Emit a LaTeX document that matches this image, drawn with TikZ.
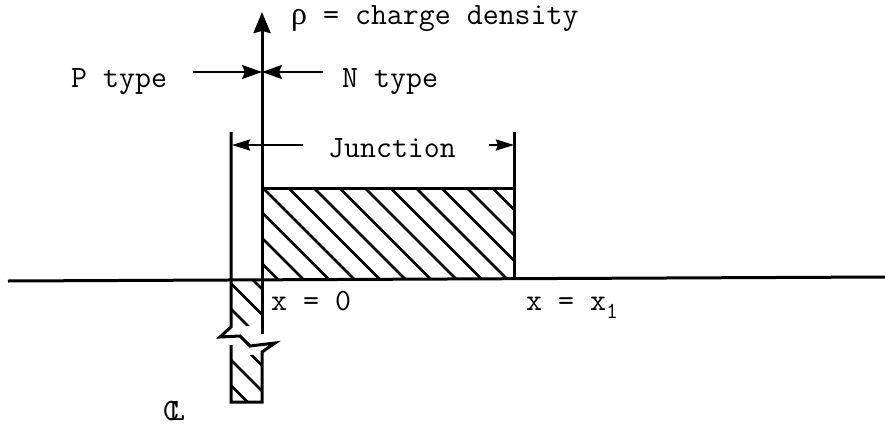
\documentclass[tikz,border=0pt]{standalone}
\usepackage{fontspec}
\usetikzlibrary{arrows.meta}
\newfontfamily\gk{Liberation Serif}
\begin{document}
\begin{tikzpicture}[x=1pt,y=-1pt,
  thickline/.style={line width=3pt},
  hatchline/.style={line width=2.6pt},
  lbl/.style={inner sep=0pt,font=\ttfamily\fontsize{31}{33}\selectfont\addfontfeature{FakeBold=1}},
  bigarr/.style={thickline,-{Stealth[length=21pt,width=17pt,inset=2pt]}},
  pnarr/.style={line width=2.6pt,-{Stealth[length=20pt,width=14pt,inset=3pt]}},
  dimarr/.style={line width=2.4pt,-{Stealth[length=18pt,width=11pt,inset=2pt]}}]
\useasboundingbox (0,0) rectangle (885,428);
% key coordinates
\coordinate (axtop) at (262,12);
\coordinate (axbrk) at (262,334);
\coordinate (hl) at (8,281);
\coordinate (hr) at (885,277);
\coordinate (ltop) at (231,132);
\coordinate (lbrk) at (231,327);
\coordinate (rtop) at (514,132);
\coordinate (rbot) at (514,279);
\coordinate (rectTL) at (262,188);
\coordinate (rectTR) at (514,188);
% hatching of the upper rectangle
\begin{scope}
  \clip (262,188) rectangle (514,279);
  \foreach \k in {-12,...,11}
    \draw[hatchline] ({263+\k*25.5},188) -- ++(120,120);
\end{scope}
% hatching of the column below the axis
\begin{scope}
  \clip (231,279) rectangle (262,326) (231,355) rectangle (262,402);
  \foreach \k in {-12,...,2}
    \draw[hatchline] ({263+\k*25.5},188) -- ++(240,240);
\end{scope}
% horizontal axis
\draw[thickline] (hl) -- (hr);
% vertical axis with arrow
\draw[bigarr] (axbrk) -- (axtop);
% rectangle top edge
\draw[thickline] (rectTL) -- (rectTR);
% junction boundary lines
\draw[thickline] (rtop) -- (rbot);
\draw[thickline,line join=miter] (ltop) -- (lbrk) -- (220,337) -- (240,336) -- (250,346) -- (275,343) -- (262,352) -- (262,402) -- (231,402) -- (231,345);
% junction dimension arrows
\coordinate (jl) at (303,145);
\coordinate (jlt) at (232,145);
\coordinate (jr) at (489,145);
\coordinate (jrt) at (514,145);
\draw[dimarr] (jl) -- (jlt);
\draw[dimarr] (jr) -- (jrt);
% P / N arrows
\coordinate (pt) at (193,72);
\coordinate (nt) at (323,72);
\coordinate (mid) at (262,72);
\draw[pnarr] (pt) -- (mid);
\draw[pnarr] (nt) -- (mid);
% labels
\node[lbl,anchor=base west] (rho) at (291,25) {{\gk\fontsize{32}{33}\selectfont ρ} = charge density};
\node[lbl,anchor=base west] (ptype) at (71,87) {P type};
\node[lbl,anchor=base west] (ntype) at (342,87) {N type};
\node[lbl,anchor=base] (junc) at (392,157) {Junction};
\node[lbl,anchor=base west] (x0) at (271,310) {x = 0};
\node[lbl,anchor=base west] (x1) at (526,310) {x = x\raisebox{-8pt}{\fontsize{23}{23}\selectfont 1}};
\node[lbl,anchor=base west] (cl) at (163,420) {\rlap{C}\kern6pt L};
\end{tikzpicture}
\end{document}
